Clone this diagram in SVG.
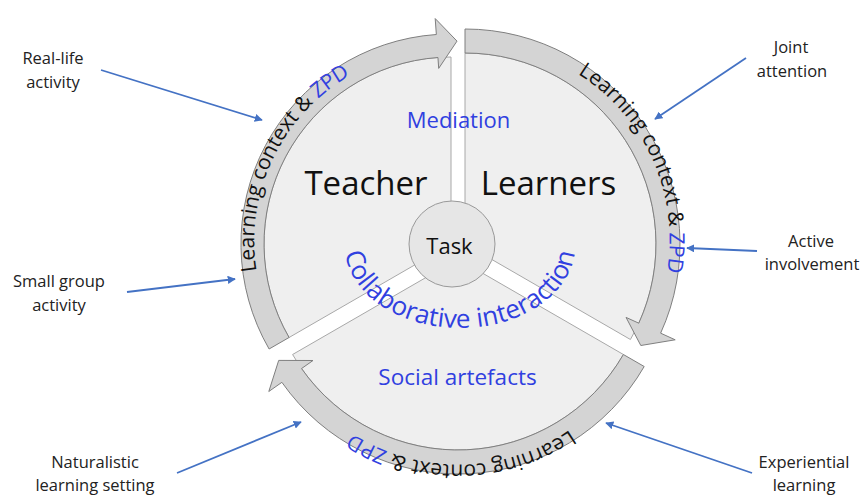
<svg xmlns="http://www.w3.org/2000/svg" width="865" height="495" viewBox="0 0 865 495">
<style>
.body{fill:#efefef;stroke:#a8a8a8;stroke-width:1}
.band{fill:#d4d4d4;stroke:#7f7f7f;stroke-width:1}
.t{font-family:"Open Sans","Noto Sans",sans-serif}
.lbl{font-family:"Open Sans","Noto Sans",sans-serif;font-size:16.5px;fill:#222;text-anchor:middle}
.blue{fill:#3040e0}
.ring{font-family:"Open Sans","Noto Sans",sans-serif;font-size:21px;fill:#111}
.conn{stroke:#4472c4;stroke-width:1.8;fill:none;marker-end:url(#ah)}
</style>
<defs>
<marker id="ah" viewBox="0 0 10 10" refX="9" refY="5" markerWidth="4.5" markerHeight="4.5" orient="auto" markerUnits="strokeWidth">
<path d="M0,0 L10,5 L0,10 Z" fill="#4472c4"/>
</marker>
<path id="pT" d="M339.23 400.12 A191 191 0 0 1 502.63 59.07"/>
<path id="pL" d="M413.35 53.89 A195.5 195.5 0 0 1 578.56 404.98"/>
<path id="pS" d="M652.57 289.82 A195.5 195.5 0 0 1 264.62 296.59"/>
<path id="pC" d="M345 246 A115 82 0 0 0 575 246"/>
</defs>
<rect width="865" height="495" fill="#fff"/>

<g id="teacher">
<path class="body" d="M451 244 L289.05 337.5 A187 187 0 0 1 451 57 Z"/>
<path class="band" d="M269.1 349 A210 210 0 0 1 436.35 34.5 L435.2 18.55 L457 41.1 L438.7 68.4 L437.95 57.5 A187 187 0 0 0 289.05 337.5 Z"/>
<text class="ring"><textPath href="#pT" startOffset="50%" text-anchor="middle">Learning context &amp; <tspan class="blue">ZPD</tspan></textPath></text>
<text class="t" x="366" y="195" font-size="33" fill="#111" text-anchor="middle">Teacher</text>
</g>

<g id="learners">
<path class="body" d="M465 244 L465 53 A191 191 0 0 1 630.41 339.5 Z"/>
<path class="band" d="M465 29 A215 215 0 0 1 660.64 333.16 L675.2 339.8 L640.8 345.5 L626.06 317.4 L638.8 323.2 A191 191 0 0 0 465 53 Z"/>
<text class="ring"><textPath href="#pL" startOffset="50.6%" text-anchor="middle">Learning context &amp; <tspan class="blue">ZPD</tspan></textPath></text>
<text class="t" x="548.5" y="195" font-size="33" fill="#111" text-anchor="middle">Learners</text>
</g>

<g id="social">
<path class="body" d="M458 259 L623.4 354.5 A191 191 0 0 1 292.6 354.5 Z"/>
<path class="band" d="M644.2 366.5 A215 215 0 0 1 281.88 382.32 L268.8 391.5 L278.7 360.4 L313 360.5 L301.54 368.55 A191 191 0 0 0 623.4 354.5 Z"/>
<text class="ring"><textPath href="#pS" startOffset="50%" text-anchor="middle">Learning context &amp; <tspan class="blue">ZPD</tspan></textPath></text>
<text class="t blue" x="457.5" y="385" font-size="22.5" text-anchor="middle">Social artefacts</text>
</g>

<g id="mediation">
<text class="t blue" x="458.5" y="128" font-size="22" text-anchor="middle">Mediation</text>
</g>

<g id="task">
<circle cx="452" cy="244" r="43" fill="#e6e6e6" stroke="#999" stroke-width="1"/>
<text class="t" x="449.5" y="254" font-size="22" fill="#111" text-anchor="middle">Task</text>
</g>

<g id="collaboration">
<text class="t blue" font-size="26"><textPath href="#pC" startOffset="50%" text-anchor="middle">Collaborative interaction</textPath></text>
</g>

<g id="label-reallife"><text class="lbl" x="53" y="64">Real-life</text><text class="lbl" x="53" y="88">activity</text></g>
<g id="label-smallgroup"><text class="lbl" x="59" y="287">Small group</text><text class="lbl" x="59" y="311">activity</text></g>
<g id="label-naturalistic"><text class="lbl" x="95" y="468">Naturalistic</text><text class="lbl" x="95" y="491">learning setting</text></g>
<g id="label-joint"><text class="lbl" x="791" y="53">Joint</text><text class="lbl" x="792" y="77">attention</text></g>
<g id="label-active"><text class="lbl" x="811" y="247">Active</text><text class="lbl" x="812" y="270">involvement</text></g>
<g id="label-experiential"><text class="lbl" x="804" y="468">Experiential</text><text class="lbl" x="804" y="491">learning</text></g>

<g id="connectors">
<line class="conn" x1="101" y1="70" x2="262" y2="120"/>
<line class="conn" x1="127" y1="292" x2="235" y2="279"/>
<line class="conn" x1="177" y1="473" x2="301" y2="422"/>
<line class="conn" x1="746" y1="58" x2="655" y2="119"/>
<line class="conn" x1="757" y1="251" x2="687" y2="248"/>
<line class="conn" x1="752" y1="473" x2="606" y2="423"/>
</g>
</svg>
